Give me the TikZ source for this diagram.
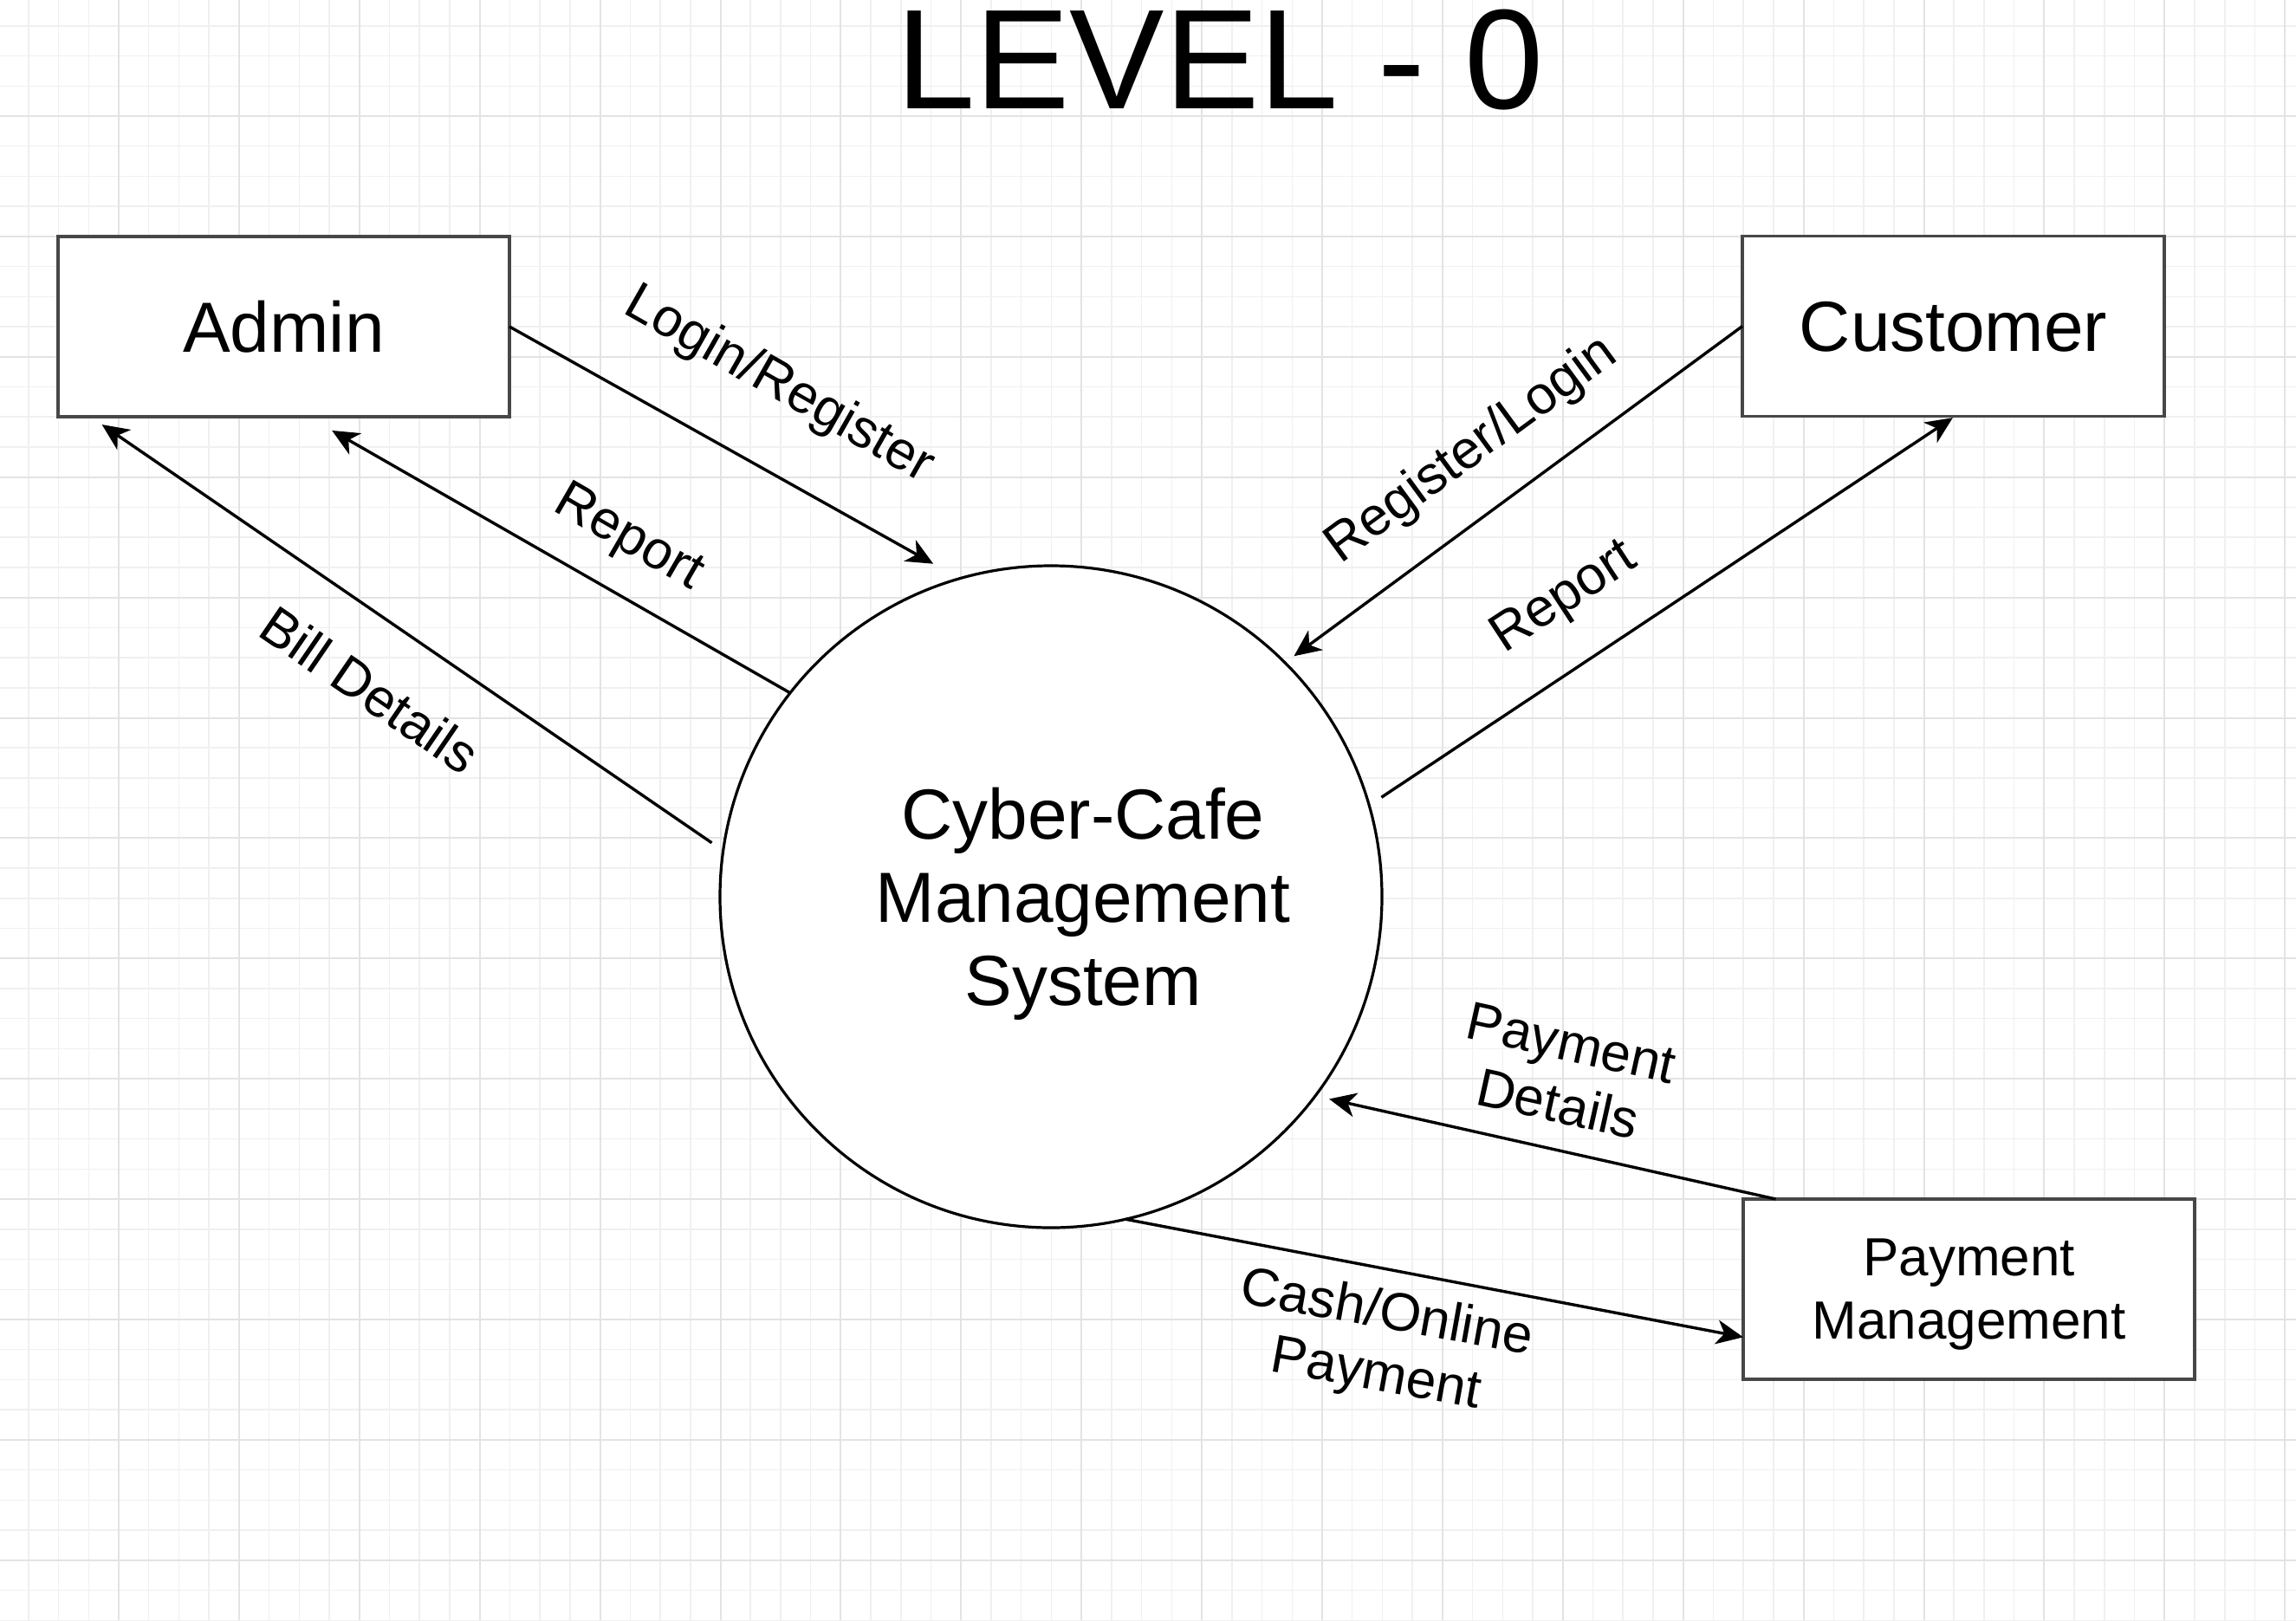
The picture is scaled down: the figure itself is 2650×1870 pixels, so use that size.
\documentclass[tikz,border=0pt]{standalone}
\usepackage{fontspec}
\setmainfont{Liberation Sans}
\usetikzlibrary{arrows.meta}
\begin{document}
\begin{tikzpicture}[x=1bp,y=-1bp,
  gridminor/.style={draw=black!6, line width=1.5bp},
  gridmajor/.style={draw=black!11, line width=2bp},
  entity/.style={draw=black!72, line width=3.5bp, fill=white, rectangle, inner sep=0pt, outer sep=0pt,
    minimum height=208bp},
  process/.style={draw=black, line width=3.2bp, fill=white, circle, inner sep=0pt, outer sep=0pt, minimum size=764bp},
  flow/.style={draw=black, line width=3.4bp, -{Stealth[length=31bp,width=28bp,inset=9bp]}},
  flowlabel/.style={font=\fontsize{62bp}{72bp}\selectfont, align=center, inner sep=0pt},
  boxtext/.style={font=\fontsize{82bp}{96bp}\selectfont, align=center, inner sep=0pt},
  smallboxtext/.style={font=\fontsize{62bp}{73bp}\selectfont, align=center, inner sep=0pt}
]
% background and grid
\fill[white] (0,0) rectangle (2650,1870);
\useasboundingbox (0,0) rectangle (2650,1870);
\foreach \i in {0,...,76} \draw[gridminor] ({32.8+34.725*\i},0) -- ({32.8+34.725*\i},1870);
\foreach \i in {0,...,53} \draw[gridminor] (0,{29.8+34.725*\i}) -- (2650,{29.8+34.725*\i});
\foreach \i in {0,...,18} \draw[gridmajor] ({137+138.9*\i},0) -- ({137+138.9*\i},1870);
\foreach \i in {0,...,12} \draw[gridmajor] (0,{134+138.9*\i}) -- (2650,{134+138.9*\i});

% title
\node[font=\fontsize{164bp}{190bp}\selectfont, text height=117.4bp, text depth=0bp, inner sep=0pt] (title) at (1408,66.5) {LEVEL - 0};

% entities
\node[entity, minimum width=521bp, font=\fontsize{82bp}{96bp}\selectfont, text height=58.7bp, text depth=0bp] (admin) at (327.5,377) {Admin};
\node[entity, minimum width=487bp, font=\fontsize{82bp}{96bp}\selectfont, text height=58.7bp, text depth=0bp] (cust) at (2254.5,376.5) {Customer};
\node[entity, minimum width=521bp] (pay) at (2272.5,1488) {};
\node[smallboxtext] (paytxt) at (2272.5,1494) {Payment\\Management};

% process
\node[process] (sys) at (1213,1035) {};
\node[boxtext] (systxt) at (1250,1043) {Cyber-Cafe\\Management\\System};

% flows
\draw[flow, shorten >=35bp] (admin.east) -- (sys.106.8);
\draw[flow, shorten >=32bp] (sys.142.4) -- (admin.-75);
\draw[flow, shorten <=16bp, shorten >=16bp] (sys.172.5) -- (admin.-155.7);
\draw[flow, shorten >=12.8bp] (cust.west) -- (sys.45.07);
\draw[flow, shorten <=17bp, shorten >=3bp] (sys.16.83) -- (cust.-89.1);
\draw[flow, shorten >=16.4bp] (pay.155.05) -- (sys.-37.3);
\draw[flow] (sys.-77.96) -- (pay.-168.96);

% flow labels
\node[flowlabel, rotate=-29.6] (l1) at (899,445) {Login/Register};
\node[flowlabel, rotate=-30] (l2) at (725,622) {Report};
\node[flowlabel, rotate=-34.4] (l3) at (427,796) {Bill Details};
\node[flowlabel, rotate=36.3] (l4) at (1699,520) {Register/Login};
\node[flowlabel, rotate=33.2] (l5) at (1806,691) {Report};
\node[flowlabel, rotate=-12.5] (l6) at (1806,1239) {Payment\\Details};
\node[flowlabel, rotate=-10.2] (l7) at (1594,1553) {Cash/Online\\Payment};
\end{tikzpicture}
\end{document}
